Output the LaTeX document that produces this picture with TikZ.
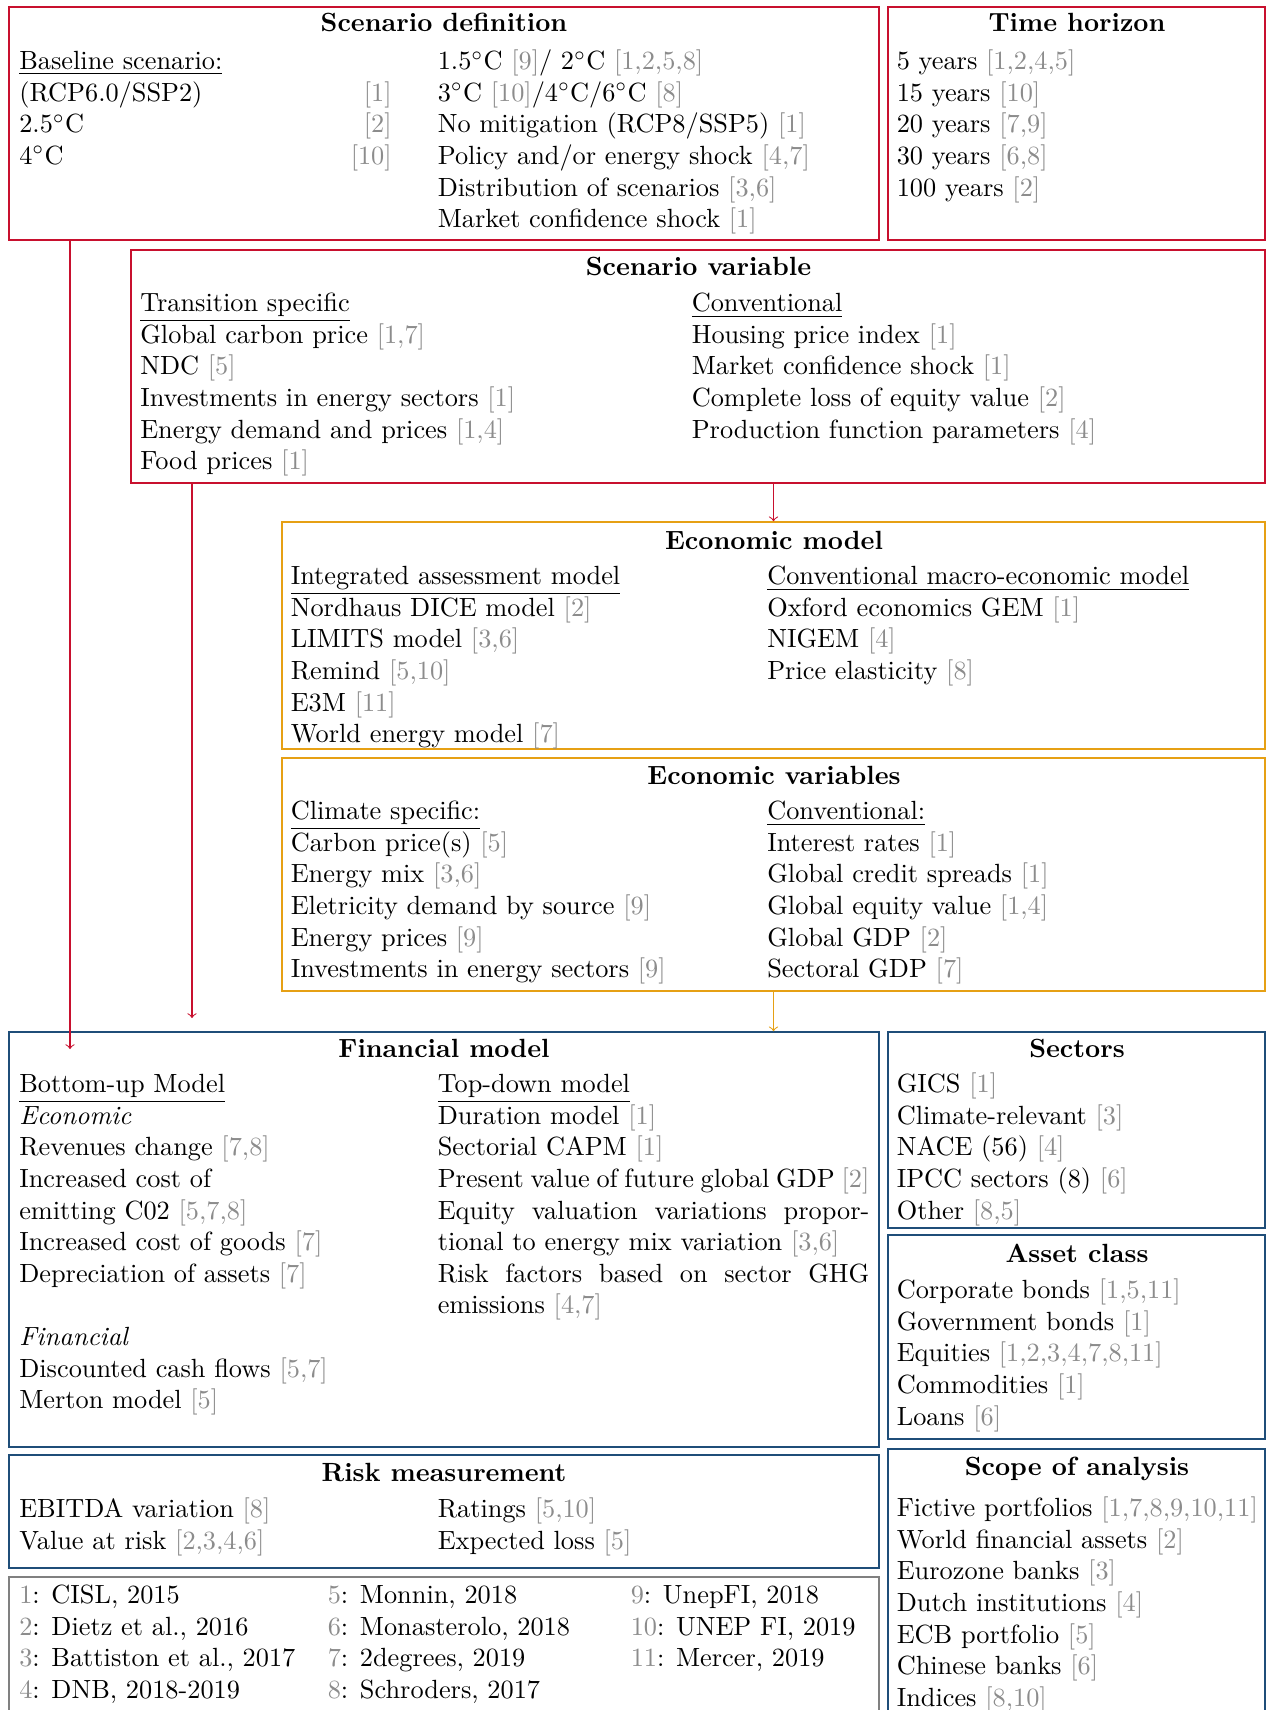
\documentclass[tikz,border=0pt]{standalone}
\usetikzlibrary{fit}

\definecolor{scenred}{RGB}{200,16,46}
\definecolor{ecoorange}{RGB}{230,160,20}
\definecolor{finblue}{RGB}{31,78,121}
\definecolor{refgray}{gray}{0.55}
\definecolor{legendgray}{RGB}{128,128,128}

\newcommand{\gcite}[1]{{\color{refgray}[#1]}}
\newcommand{\gnum}[1]{{\color{refgray}#1}}
\newcommand{\dgc}{$^{\circ}$C}

\tikzset{every picture/.style={line width=0.6pt}}
\tikzset{
  box/.style={inner sep=0pt,draw},
  ttl/.style={anchor=base,font=\bfseries,inner sep=0pt},
  lst/.style={anchor=north west,align=left,inner sep=0pt},
  flow/.style={->,line width=0.4pt}
}

\begin{document}
\begin{tikzpicture}[x=0.38pt,y=0.38pt,yscale=-1,xscale=1]
%set diagram left start at 0, and has height of 1710
\useasboundingbox (0,0) rectangle (1267,1710);

%Shape: Box [id:scenario definition]
\node (sdef) [box,draw=scenred,fit={(9,7) (879,240)}] {};
%Shape: Box [id:time horizon]
\node (thor) [box,draw=scenred,fit={(888,7) (1265,240)}] {};
%Shape: Box [id:scenario variable]
\node (svar) [box,draw=scenred,fit={(131,250) (1265,483)}] {};
%Shape: Box [id:economic model]
\node (emod) [box,draw=ecoorange,fit={(282,522) (1265,749)}] {};
%Shape: Box [id:economic variables]
\node (evar) [box,draw=ecoorange,fit={(282,758) (1265,991)}] {};
%Shape: Box [id:financial model]
\node (fmod) [box,draw=finblue,fit={(9,1032) (879,1447)}] {};
%Shape: Box [id:sectors]
\node (sect) [box,draw=finblue,fit={(888,1032) (1265,1228)}] {};
%Shape: Box [id:asset class]
\node (asset) [box,draw=finblue,fit={(888,1235) (1265,1439)}] {};
%Shape: Box [id:risk measurement]
\node (risk) [box,draw=finblue,fit={(9,1455) (879,1568)}] {};
%Shape: Box [id:references]
\node (refs) [box,draw=legendgray,fit={(9,1577) (879,1730)}] {};
%Shape: Box [id:scope of analysis]
\node (scope) [box,draw=finblue,fit={(888,1449) (1265,1730)}] {};

%Straight Lines [id:scenario definition to financial model]
\coordinate (sdefOut) at (70,1049);
\draw [flow,scenred] (sdef.south -| sdefOut) -- (sdefOut) ;
%Straight Lines [id:scenario variable to financial model]
\coordinate (svarOut) at (192,1018);
\draw [flow,scenred] (svar.south -| svarOut) -- (svarOut) ;
%Straight Lines [id:scenario variable to economic model]
\draw [flow,scenred] (svar.south -| emod.north) -- (emod.north) ;
%Straight Lines [id:economic variables to financial model]
\draw [flow,ecoorange] (evar.south) -- (evar.south |- fmod.north) ;

% Text Node
\draw (444,32) node (sdefT) [ttl] {Scenario definition};
% Text Node
\draw (18.5,46.9) node (sdefL) [lst] {\strut\underline{Baseline scenario:}\\(RCP6.0/SSP2)\\2.5\dgc\\4\dgc};
% Text Node
\draw (392.5,78.5) node (sdefC) [anchor=north east,align=right,inner sep=0pt] {\strut\gcite{1}\\\gcite{2}\\\gcite{10}};
% Text Node
\draw (437,46.9) node (sdefR) [lst] {\strut1.5\dgc{} \gcite{9}/ 2\dgc{} \gcite{1,2,5,8}\\3\dgc{} \gcite{10}/4\dgc/6\dgc{} \gcite{8}\\No mitigation (RCP8/SSP5) \gcite{1}\\Policy and/or energy shock \gcite{4,7}\\Distribution of scenarios \gcite{3,6}\\Market confidence shock \gcite{1}};

% Text Node
\draw (1077,32) node (thorT) [ttl] {Time horizon};
% Text Node
\draw (896,46.9) node (thorL) [lst] {\strut5 years \gcite{1,2,4,5}\\15 years \gcite{10}\\20 years \gcite{7,9}\\30 years \gcite{6,8}\\100 years \gcite{2}};

% Text Node
\draw (698.5,275) node (svarT) [ttl] {Scenario variable};
% Text Node
\draw (139.5,288.9) node (svarL) [lst] {\strut\underline{Transition specific}\\Global carbon price \gcite{1,7}\\NDC \gcite{5}\\Investments in energy sectors \gcite{1}\\Energy demand and prices \gcite{1,4}\\Food prices \gcite{1}};
% Text Node
\draw (691,288.9) node (svarR) [lst] {\strut\underline{Conventional}\\Housing price index \gcite{1}\\Market confidence shock \gcite{1}\\Complete loss of equity value \gcite{2}\\Production function parameters \gcite{4}};

% Text Node
\draw (774,549) node (emodT) [ttl] {Economic model};
% Text Node
\draw (290,561.9) node (emodL) [lst] {\strut\underline{Integrated assessment model}\\Nordhaus DICE model \gcite{2}\\LIMITS model \gcite{3,6}\\Remind \gcite{5,10}\\E3M \gcite{11}\\World energy model \gcite{7}};
% Text Node
\draw (766.5,561.9) node (emodR) [lst] {\strut\underline{Conventional macro-economic model}\\Oxford economics GEM \gcite{1}\\NIGEM \gcite{4}\\Price elasticity \gcite{8}};

% Text Node
\draw (774,784) node (evarT) [ttl] {Economic variables};
% Text Node
\draw (290,796.9) node (evarL) [lst] {\strut\underline{Climate specific:}\\Carbon price(s) \gcite{5}\\Energy mix \gcite{3,6}\\Eletricity demand by source \gcite{9}\\Energy prices \gcite{9}\\Investments in energy sectors \gcite{9}};
% Text Node
\draw (766.5,796.9) node (evarR) [lst] {\strut\underline{Conventional:}\\Interest rates \gcite{1}\\Global credit spreads \gcite{1}\\Global equity value \gcite{1,4}\\Global GDP \gcite{2}\\Sectoral GDP \gcite{7}};

% Text Node
\draw (444,1057) node (fmodT) [ttl] {Financial model};
% Text Node
\draw (18.5,1069.9) node (fmodL) [lst] {\strut\underline{Bottom-up Model}\\\textit{Economic}\\Revenues change \gcite{7,8}\\Increased cost of\\emitting C02 \gcite{5,7,8}\\Increased cost of goods \gcite{7}\\Depreciation of assets \gcite{7}\\[12pt]\textit{Financial}\\Discounted cash flows \gcite{5,7}\\Merton model \gcite{5}};
% Text Node
\draw (437,1069.9) node (fmodR) [lst] {\strut\underline{Top-down model}\\Duration model \gcite{1}\\Sectorial CAPM \gcite{1}\\\makebox[164pt][s]{Present value of future global GDP \gcite{2}}\\\makebox[164pt][s]{Equity valuation variations propor-}\\tional to energy mix variation \gcite{3,6}\\\makebox[164pt][s]{Risk factors based on sector GHG}\\emissions \gcite{4,7}};

% Text Node
\draw (1077,1057) node (sectT) [ttl] {Sectors};
% Text Node
\draw (896,1069.9) node (sectL) [lst] {\strut GICS \gcite{1}\\Climate-relevant \gcite{3}\\NACE (56) \gcite{4}\\IPCC sectors (8) \gcite{6}\\Other \gcite{8,5}};

% Text Node
\draw (1077,1262) node (assetT) [ttl] {Asset class};
% Text Node
\draw (896,1275.9) node (assetL) [lst] {\strut Corporate bonds \gcite{1,5,11}\\Government bonds \gcite{1}\\Equities \gcite{1,2,3,4,7,8,11}\\Commodities \gcite{1}\\Loans \gcite{6}};

% Text Node
\draw (444,1481) node (riskT) [ttl] {Risk measurement};
% Text Node
\draw (18.5,1494.9) node (riskL) [lst] {\strut EBITDA variation \gcite{8}\\Value at risk \gcite{2,3,4,6}};
% Text Node
\draw (437,1494.9) node (riskR) [lst] {\strut Ratings \gcite{5,10}\\Expected loss \gcite{5}};

% Text Node
\draw (18.5,1580.9) node (refsA) [lst] {\strut\gnum{1}: CISL, 2015\\\gnum{2}: Dietz et al., 2016\\\gnum{3}: Battiston et al., 2017\\\gnum{4}: DNB, 2018-2019};
% Text Node
\draw (327,1580.9) node (refsB) [lst] {\strut\gnum{5}: Monnin, 2018\\\gnum{6}: Monasterolo, 2018\\\gnum{7}: 2degrees, 2019\\\gnum{8}: Schroders, 2017};
% Text Node
\draw (630,1580.9) node (refsC) [lst] {\strut\gnum{9}: UnepFI, 2018\\\gnum{10}: UNEP FI, 2019\\\gnum{11}: Mercer, 2019};

% Text Node
\draw (1077,1475) node (scopeT) [ttl] {Scope of analysis};
% Text Node
\draw (896,1493.9) node (scopeL) [lst] {\strut Fictive portfolios \gcite{1,7,8,9,10,11}\\World financial assets \gcite{2}\\Eurozone banks \gcite{3}\\Dutch institutions \gcite{4}\\ECB portfolio \gcite{5}\\Chinese banks \gcite{6}\\Indices \gcite{8,10}};

\end{tikzpicture}
\end{document}
